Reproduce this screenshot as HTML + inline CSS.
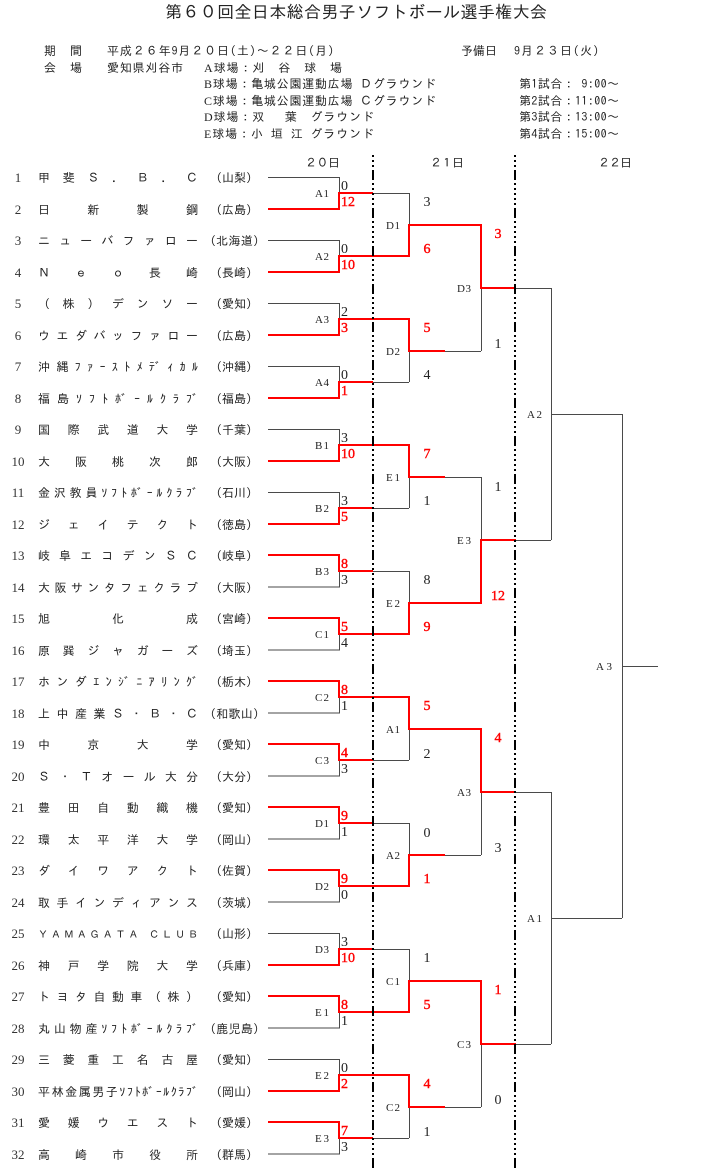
<!DOCTYPE html>
<html lang="ja">
<head>
<meta charset="utf-8">
<title>第60回全日本総合男子ソフトボール選手権大会</title>
<style>
html,body{margin:0;padding:0;background:#fff;width:710px;height:1171px;overflow:hidden}
svg{display:block}
text{font-family:"IPAGothic","Noto Sans CJK JP",sans-serif;font-size:12px;fill:#222}
.n{font-family:"Liberation Serif",serif;font-size:13px;text-anchor:middle;fill:#333}
.s{font-family:"Liberation Serif",serif;font-size:14px;fill:#222}
.c{text-anchor:middle}
.r{font-family:"Liberation Serif",serif;font-size:14px;fill:#f00;stroke:#f00;stroke-width:.4}
.l{font-family:"Liberation Serif",serif;font-size:11px;fill:#222}
.h{font-size:12px;fill:#222}
.h tspan{font-family:"Liberation Serif",serif}
</style>
</head>
<body>
<svg width="710" height="1171" viewBox="0 0 710 1171" xmlns="http://www.w3.org/2000/svg">
<text x="165" y="18" style="font-size:17px" textLength="382">第６０回全日本総合男子ソフトボール選手権大会</text>

<text class="h" x="44" y="55" textLength="38">期　間</text>
<text class="h" x="107" y="55" textLength="227">平成２６年9月２０日(土)～２２日(月)</text>
<text class="h" x="461" y="55" textLength="36">予備日</text>
<text class="h" x="514" y="55" textLength="85">9月２３日(火)</text>
<text class="h" x="44" y="72" textLength="38">会　場</text>
<text class="h" x="107" y="72" textLength="76">愛知県刈谷市</text>
<text class="h" x="204" y="72" textLength="138"><tspan>A</tspan>球場：刈　谷　球　場</text>
<text class="h" x="204" y="88" textLength="232"><tspan>B</tspan>球場：亀城公園運動広場 Ｄグラウンド</text>
<text class="h" x="204" y="105" textLength="232"><tspan>C</tspan>球場：亀城公園運動広場 Ｃグラウンド</text>
<text class="h" x="204" y="121" textLength="170"><tspan>D</tspan>球場：双　 葉　グラウンド</text>
<text class="h" x="204" y="138" textLength="170"><tspan>E</tspan>球場：小 垣 江 グラウンド</text>
<text class="h" x="519" y="88" textLength="100">第1試合： 9:00～</text>
<text class="h" x="519" y="105" textLength="100">第2試合：11:00～</text>
<text class="h" x="519" y="121" textLength="100">第3試合：13:00～</text>
<text class="h" x="519" y="138" textLength="100">第4試合：15:00～</text>
<text class="h" x="305" y="167" textLength="35">２０日</text>
<text class="h" x="430" y="167" textLength="34">２１日</text>
<text class="h" x="598" y="167" textLength="34">２２日</text>

<!-- thin connectors -->
<path fill="none" stroke="#4a4a4a" stroke-width="1" shape-rendering="crispEdges" d="
M268 177.5H339.5V209H268M339 193.5H409
M268 240.5H339.5V272H268M339 256.5H409
M268 303.5H339.5V335H268M339 319.5H409
M268 366.5H339.5V398H268M339 382.5H409
M268 429.5H339.5V461H268M339 445.5H409
M268 492.5H339.5V524H268M339 508.5H409
M268 555.5H339.5V587H268M339 571.5H409
M268 618.5H339.5V650H268M339 634.5H409
M268 681.5H339.5V713H268M339 697.5H409
M268 744.5H339.5V776H268M339 760.5H409
M268 807.5H339.5V839H268M339 823.5H409
M268 870.5H339.5V902H268M339 886.5H409
M268 933.5H339.5V965H268M339 949.5H409
M268 996.5H339.5V1028H268M339 1012.5H409
M268 1059.5H339.5V1091H268M339 1075.5H409
M268 1122.5H339.5V1154H268M339 1138.5H409
M409.5 193V256M409.5 319V382M409.5 445V508M409.5 571V634M409.5 697V760M409.5 823V886M409.5 949V1012M409.5 1075V1138
M409 225.5H481M409 351.5H481M409 477.5H481M409 603.5H481M409 729.5H481M409 855.5H481M409 981.5H481M409 1107.5H481
M481.5 225V351M481.5 477V603M481.5 729V855M481.5 981V1107
M481 288.5H551M481 540.5H551M481 792.5H551M481 1044.5H551
M551.5 288V540M551.5 792V1044M551 414.5H622M551 918.5H622M622.5 414V918M622 666.5H658"/>

<!-- winners -->
<path fill="none" stroke="#f00" stroke-width="2.4" shape-rendering="crispEdges" d="
M268 209H339V193H373
M268 272H339V256H409V225H481V288H516
M268 335H339V319H409V351H445
M268 398H339V382H373
M268 461H339V445H409V477H445
M268 524H339V508H373
M268 555H339V571H373
M268 618H339V634H409V603H481V540H516
M268 681H339V697H409V729H481V792H516
M268 744H339V760H373
M268 807H339V823H373
M268 870H339V886H409V855H445
M268 965H339V949H373
M268 996H339V1012H409V981H481V1044H516
M268 1091H339V1075H409V1107H445
M268 1122H339V1138H373"/>

<!-- day dividers -->
<path fill="none" stroke="#000" stroke-width="2" stroke-dasharray="10 3 2 3 2 3 2 3 2 3 2 3" stroke-dashoffset="22" d="M373 154V1171M515 154V1171"/>

<!-- teams -->
<text class="n" x="18" y="182">1</text><text x="38" y="182" textLength="160">甲斐Ｓ．Ｂ．Ｃ</text><text x="216" y="182" textLength="36">(山梨)</text>
<text class="n" x="18" y="214">2</text><text x="38" y="214" textLength="160">日新製鋼</text><text x="216" y="214" textLength="36">(広島)</text>
<text class="n" x="18" y="245">3</text><text x="38" y="245" textLength="160">ニューバファロー</text><text x="210" y="245" textLength="49">(北海道)</text>
<text class="n" x="18" y="277">4</text><text x="38" y="277" textLength="160">Ｎｅｏ長崎</text><text x="216" y="277" textLength="36">(長崎)</text>
<text class="n" x="18" y="308">5</text><text x="38" y="308" textLength="160">（株）デンソー</text><text x="216" y="308" textLength="36">(愛知)</text>
<text class="n" x="18" y="340">6</text><text x="38" y="340" textLength="160">ウエダバッファロー</text><text x="216" y="340" textLength="36">(広島)</text>
<text class="n" x="18" y="371">7</text><text x="38" y="371" textLength="160">沖縄ﾌｧｰｽﾄﾒﾃﾞｨｶﾙ</text><text x="216" y="371" textLength="36">(沖縄)</text>
<text class="n" x="18" y="403">8</text><text x="38" y="403" textLength="160">福島ｿﾌﾄﾎﾞｰﾙｸﾗﾌﾞ</text><text x="216" y="403" textLength="36">(福島)</text>
<text class="n" x="18" y="434">9</text><text x="38" y="434" textLength="160">国際武道大学</text><text x="216" y="434" textLength="36">(千葉)</text>
<text class="n" x="18" y="466">10</text><text x="38" y="466" textLength="160">大阪桃次郎</text><text x="216" y="466" textLength="36">(大阪)</text>
<text class="n" x="18" y="497">11</text><text x="38" y="497" textLength="160">金沢教員ｿﾌﾄﾎﾞｰﾙｸﾗﾌﾞ</text><text x="216" y="497" textLength="36">(石川)</text>
<text class="n" x="18" y="529">12</text><text x="38" y="529" textLength="160">ジェイテクト</text><text x="216" y="529" textLength="36">(徳島)</text>
<text class="n" x="18" y="560">13</text><text x="38" y="560" textLength="160">岐阜エコデンＳＣ</text><text x="216" y="560" textLength="36">(岐阜)</text>
<text class="n" x="18" y="592">14</text><text x="38" y="592" textLength="160">大阪サンタフェクラブ</text><text x="216" y="592" textLength="36">(大阪)</text>
<text class="n" x="18" y="623">15</text><text x="38" y="623" textLength="160">旭化成</text><text x="216" y="623" textLength="36">(宮崎)</text>
<text class="n" x="18" y="655">16</text><text x="38" y="655" textLength="160">原巽ジャガーズ</text><text x="216" y="655" textLength="36">(埼玉)</text>
<text class="n" x="18" y="686">17</text><text x="38" y="686" textLength="160">ホンダｴﾝｼﾞﾆｱﾘﾝｸﾞ</text><text x="216" y="686" textLength="36">(栃木)</text>
<text class="n" x="18" y="718">18</text><text x="38" y="718" textLength="160">上中産業Ｓ・Ｂ・Ｃ</text><text x="210" y="718" textLength="49">(和歌山)</text>
<text class="n" x="18" y="749">19</text><text x="38" y="749" textLength="160">中京大学</text><text x="216" y="749" textLength="36">(愛知)</text>
<text class="n" x="18" y="781">20</text><text x="38" y="781" textLength="160">Ｓ・Ｔオール大分</text><text x="216" y="781" textLength="36">(大分)</text>
<text class="n" x="18" y="812">21</text><text x="38" y="812" textLength="160">豊田自動織機</text><text x="216" y="812" textLength="36">(愛知)</text>
<text class="n" x="18" y="844">22</text><text x="38" y="844" textLength="160">環太平洋大学</text><text x="216" y="844" textLength="36">(岡山)</text>
<text class="n" x="18" y="875">23</text><text x="38" y="875" textLength="160">ダイワアクト</text><text x="216" y="875" textLength="36">(佐賀)</text>
<text class="n" x="18" y="907">24</text><text x="38" y="907" textLength="160">取手インディアンス</text><text x="216" y="907" textLength="36">(茨城)</text>
<text class="n" x="18" y="938">25</text><text x="38" y="938" style="font-size:10px" textLength="160">ＹＡＭＡＧＡＴＡ ＣＬＵＢ</text><text x="216" y="938" textLength="36">(山形)</text>
<text class="n" x="18" y="970">26</text><text x="38" y="970" textLength="160">神戸学院大学</text><text x="216" y="970" textLength="36">(兵庫)</text>
<text class="n" x="18" y="1001">27</text><text x="38" y="1001" textLength="160">トヨタ自動車（株）</text><text x="216" y="1001" textLength="36">(愛知)</text>
<text class="n" x="18" y="1033">28</text><text x="38" y="1033" textLength="160">丸山物産ｿﾌﾄﾎﾞｰﾙｸﾗﾌﾞ</text><text x="210" y="1033" textLength="49">(鹿児島)</text>
<text class="n" x="18" y="1064">29</text><text x="38" y="1064" textLength="160">三菱重工名古屋</text><text x="216" y="1064" textLength="36">(愛知)</text>
<text class="n" x="18" y="1096">30</text><text x="38" y="1096" textLength="160">平林金属男子ｿﾌﾄﾎﾞｰﾙｸﾗﾌﾞ</text><text x="216" y="1096" textLength="36">(岡山)</text>
<text class="n" x="18" y="1127">31</text><text x="38" y="1127" textLength="160">愛媛ウエスト</text><text x="216" y="1127" textLength="36">(愛媛)</text>
<text class="n" x="18" y="1159">32</text><text x="38" y="1159" textLength="160">高崎市役所</text><text x="216" y="1159" textLength="36">(群馬)</text>

<!-- round 1 scores -->
<text class="s" x="341" y="190">0</text><text class="r" x="341" y="206">12</text>
<text class="s" x="341" y="253">0</text><text class="r" x="341" y="269">10</text>
<text class="s" x="341" y="316">2</text><text class="r" x="341" y="332">3</text>
<text class="s" x="341" y="379">0</text><text class="r" x="341" y="395">1</text>
<text class="s" x="341" y="442">3</text><text class="r" x="341" y="458">10</text>
<text class="s" x="341" y="505">3</text><text class="r" x="341" y="521">5</text>
<text class="r" x="341" y="568">8</text><text class="s" x="341" y="584">3</text>
<text class="r" x="341" y="631">5</text><text class="s" x="341" y="647">4</text>
<text class="r" x="341" y="694">8</text><text class="s" x="341" y="710">1</text>
<text class="r" x="341" y="757">4</text><text class="s" x="341" y="773">3</text>
<text class="r" x="341" y="820">9</text><text class="s" x="341" y="836">1</text>
<text class="r" x="341" y="883">9</text><text class="s" x="341" y="899">0</text>
<text class="s" x="341" y="946">3</text><text class="r" x="341" y="962">10</text>
<text class="r" x="341" y="1009">8</text><text class="s" x="341" y="1025">1</text>
<text class="s" x="341" y="1072">0</text><text class="r" x="341" y="1088">2</text>
<text class="r" x="341" y="1135">7</text><text class="s" x="341" y="1151">3</text>

<!-- round 2 scores -->
<text class="s c" x="427" y="206">3</text><text class="r c" x="427" y="253">6</text>
<text class="r c" x="427" y="332">5</text><text class="s c" x="427" y="379">4</text>
<text class="r c" x="427" y="458">7</text><text class="s c" x="427" y="505">1</text>
<text class="s c" x="427" y="584">8</text><text class="r c" x="427" y="631">9</text>
<text class="r c" x="427" y="710">5</text><text class="s c" x="427" y="758">2</text>
<text class="s c" x="427" y="837">0</text><text class="r c" x="427" y="883">1</text>
<text class="s c" x="427" y="962">1</text><text class="r c" x="427" y="1009">5</text>
<text class="r c" x="427" y="1088">4</text><text class="s c" x="427" y="1136">1</text>

<!-- round 3 scores -->
<text class="r c" x="498" y="238">3</text><text class="s c" x="498" y="348">1</text>
<text class="s c" x="498" y="491">1</text><text class="r c" x="498" y="600">12</text>
<text class="r c" x="498" y="742">4</text><text class="s c" x="498" y="852">3</text>
<text class="r c" x="498" y="994">1</text><text class="s c" x="498" y="1104">0</text>

<!-- match labels -->
<text class="l" x="315" y="197" textLength="14">A 1</text>
<text class="l" x="315" y="260" textLength="14">A 2</text>
<text class="l" x="315" y="323" textLength="14">A 3</text>
<text class="l" x="315" y="386" textLength="14">A 4</text>
<text class="l" x="315" y="449" textLength="14">B 1</text>
<text class="l" x="315" y="512" textLength="14">B 2</text>
<text class="l" x="315" y="575" textLength="14">B 3</text>
<text class="l" x="315" y="638" textLength="14">C 1</text>
<text class="l" x="315" y="701" textLength="14">C 2</text>
<text class="l" x="315" y="764" textLength="14">C 3</text>
<text class="l" x="315" y="827" textLength="14">D 1</text>
<text class="l" x="315" y="890" textLength="14">D 2</text>
<text class="l" x="315" y="953" textLength="14">D 3</text>
<text class="l" x="315" y="1016" textLength="14">E 1</text>
<text class="l" x="315" y="1079" textLength="14">E 2</text>
<text class="l" x="315" y="1142" textLength="14">E 3</text>
<text class="l" x="386" y="229" textLength="14">D 1</text>
<text class="l" x="386" y="355" textLength="14">D 2</text>
<text class="l" x="386" y="481" textLength="14">E 1</text>
<text class="l" x="386" y="607" textLength="14">E 2</text>
<text class="l" x="386" y="733" textLength="14">A 1</text>
<text class="l" x="386" y="859" textLength="14">A 2</text>
<text class="l" x="386" y="985" textLength="14">C 1</text>
<text class="l" x="386" y="1111" textLength="14">C 2</text>
<text class="l" x="457" y="292" textLength="14">D 3</text>
<text class="l" x="457" y="544" textLength="14">E 3</text>
<text class="l" x="457" y="796" textLength="14">A 3</text>
<text class="l" x="457" y="1048" textLength="14">C 3</text>
<text class="l" x="527" y="418" textLength="15">A 2</text>
<text class="l" x="527" y="922" textLength="15">A 1</text>
<text class="l" x="596" y="670" textLength="16">A 3</text>
</svg>
</body>
</html>
